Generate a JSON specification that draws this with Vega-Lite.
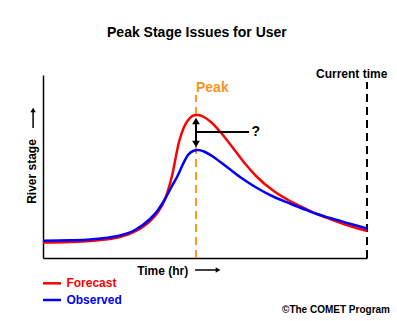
{
  "$schema": "https://vega.github.io/schema/vega-lite/v6.json",
  "width": 324,
  "height": 183,
  "autosize": {"type": "none"},
  "padding": {"left": 43, "top": 75, "right": 30, "bottom": 63},
  "background": "white",
  "config": {"view": {"stroke": null}, "font": "Liberation Sans"},
  "datasets": {
    "curves": [
      {"t": 0, "s": 1.55, "series": "Forecast"},
      {"t": 3.0, "s": 1.6, "series": "Forecast"},
      {"t": 5.22, "s": 1.7, "series": "Forecast"},
      {"t": 6.89, "s": 1.85, "series": "Forecast"},
      {"t": 8.56, "s": 2.1, "series": "Forecast"},
      {"t": 10.22, "s": 2.65, "series": "Forecast"},
      {"t": 11.89, "s": 3.7, "series": "Forecast"},
      {"t": 12.78, "s": 4.6, "series": "Forecast"},
      {"t": 13.56, "s": 5.9, "series": "Forecast"},
      {"t": 14.33, "s": 8.2, "series": "Forecast"},
      {"t": 15.11, "s": 11.6, "series": "Forecast"},
      {"t": 15.67, "s": 13.1, "series": "Forecast"},
      {"t": 16.22, "s": 13.9, "series": "Forecast"},
      {"t": 16.78, "s": 14.27, "series": "Forecast"},
      {"t": 17.22, "s": 14.3, "series": "Forecast"},
      {"t": 17.89, "s": 14.1, "series": "Forecast"},
      {"t": 18.78, "s": 13.5, "series": "Forecast"},
      {"t": 19.89, "s": 12.4, "series": "Forecast"},
      {"t": 21.33, "s": 10.75, "series": "Forecast"},
      {"t": 22.44, "s": 9.45, "series": "Forecast"},
      {"t": 23.78, "s": 8.1, "series": "Forecast"},
      {"t": 25.56, "s": 6.75, "series": "Forecast"},
      {"t": 27.44, "s": 5.7, "series": "Forecast"},
      {"t": 29.11, "s": 4.95, "series": "Forecast"},
      {"t": 30.44, "s": 4.4, "series": "Forecast"},
      {"t": 31.89, "s": 3.9, "series": "Forecast"},
      {"t": 34.11, "s": 3.2, "series": "Forecast"},
      {"t": 36.0, "s": 2.7, "series": "Forecast"},
      {"t": 0, "s": 1.73, "series": "Observed"},
      {"t": 3.0, "s": 1.77, "series": "Observed"},
      {"t": 5.22, "s": 1.85, "series": "Observed"},
      {"t": 6.89, "s": 2.0, "series": "Observed"},
      {"t": 8.56, "s": 2.25, "series": "Observed"},
      {"t": 10.22, "s": 2.8, "series": "Observed"},
      {"t": 11.89, "s": 3.9, "series": "Observed"},
      {"t": 12.78, "s": 4.8, "series": "Observed"},
      {"t": 13.56, "s": 5.9, "series": "Observed"},
      {"t": 14.33, "s": 7.2, "series": "Observed"},
      {"t": 14.89, "s": 8.1, "series": "Observed"},
      {"t": 15.56, "s": 9.4, "series": "Observed"},
      {"t": 16.11, "s": 10.3, "series": "Observed"},
      {"t": 16.67, "s": 10.7, "series": "Observed"},
      {"t": 17.22, "s": 10.8, "series": "Observed"},
      {"t": 17.89, "s": 10.65, "series": "Observed"},
      {"t": 18.78, "s": 10.2, "series": "Observed"},
      {"t": 20.0, "s": 9.4, "series": "Observed"},
      {"t": 21.89, "s": 8.1, "series": "Observed"},
      {"t": 23.78, "s": 7.0, "series": "Observed"},
      {"t": 25.56, "s": 6.15, "series": "Observed"},
      {"t": 27.44, "s": 5.45, "series": "Observed"},
      {"t": 29.11, "s": 4.85, "series": "Observed"},
      {"t": 30.44, "s": 4.4, "series": "Observed"},
      {"t": 31.89, "s": 4.0, "series": "Observed"},
      {"t": 34.11, "s": 3.43, "series": "Observed"},
      {"t": 36.0, "s": 2.95, "series": "Observed"}
    ]
  },
  "encoding": {
    "x": {"field": "t", "type": "quantitative", "scale": {"domain": [0, 36], "nice": false, "zero": false},
      "axis": {"domain": true, "domainColor": "black", "domainWidth": 1.5, "ticks": false, "labels": false, "grid": false, "title": null}},
    "y": {"field": "s", "type": "quantitative", "scale": {"domain": [0, 18.3], "nice": false, "zero": false},
      "axis": {"domain": true, "domainColor": "black", "domainWidth": 1.5, "ticks": false, "labels": false, "grid": false, "title": null}}
  },
  "layer": [
    {
      "data": {"values": [{"t": 17.0, "s": 0, "s2": 16.3}]},
      "mark": {"type": "rule", "color": "#FF9A1F", "strokeWidth": 2, "strokeDash": [8, 5]},
      "encoding": {"y2": {"field": "s2"}}
    },
    {
      "data": {"values": [{"t": 36.0, "s": 0, "s2": 17.6}]},
      "mark": {"type": "rule", "color": "black", "strokeWidth": 2, "strokeDash": [8, 5]},
      "encoding": {"y2": {"field": "s2"}}
    },
    {
      "data": {"name": "curves"},
      "mark": {"type": "line", "interpolate": "monotone", "strokeWidth": 2.5},
      "encoding": {
        "color": {"field": "series", "type": "nominal", "scale": {"domain": ["Forecast", "Observed"], "range": ["#FF0000", "#0000FF"]}, "legend": null}
      }
    },
    {
      "data": {"values": [
        {"t": 17.0, "s": 11.4, "s2": 13.7},
        {"t": 17.1, "t2": 22.9, "s": 12.6}
      ]},
      "mark": {"type": "rule", "color": "black", "strokeWidth": 2},
      "encoding": {"x2": {"field": "t2"}, "y2": {"field": "s2"}}
    },
    {
      "data": {"values": [
        {"t": -1.1, "s": 13.0, "s2": 14.8},
        {"t": 16.9, "t2": 19.4, "s": -1.2}
      ]},
      "mark": {"type": "rule", "color": "black", "strokeWidth": 1.5},
      "encoding": {"x2": {"field": "t2"}, "y2": {"field": "s2"}}
    },
    {
      "data": {"values": [{"t": 17.0, "s": 13.7}]},
      "mark": {"type": "point", "shape": "triangle-up", "filled": true, "color": "black", "opacity": 1, "size": 60}
    },
    {
      "data": {"values": [{"t": 17.0, "s": 11.4}]},
      "mark": {"type": "point", "shape": "triangle-down", "filled": true, "color": "black", "opacity": 1, "size": 60}
    },
    {
      "data": {"values": [{"t": -1.1, "s": 14.8}]},
      "mark": {"type": "point", "shape": "triangle-up", "filled": true, "color": "black", "opacity": 1, "size": 30}
    },
    {
      "data": {"values": [{"t": 19.45, "s": -1.2}]},
      "mark": {"type": "point", "shape": "triangle-right", "filled": true, "color": "black", "opacity": 1, "size": 30}
    },
    {
      "data": {"values": [
        {"t": 0, "t2": 2.0, "s": -2.53, "series": "Forecast"},
        {"t": 0, "t2": 2.0, "s": -4.2, "series": "Observed"}
      ]},
      "mark": {"type": "rule", "strokeWidth": 2.5},
      "encoding": {"x2": {"field": "t2"}, "color": {"field": "series", "type": "nominal", "legend": null}}
    },
    {
      "data": {"values": [
        {"t": 2.6, "s": -2.53, "series": "Forecast"},
        {"t": 2.6, "s": -4.2, "series": "Observed"}
      ]},
      "mark": {"type": "text", "align": "left", "baseline": "middle", "fontSize": 12, "fontWeight": "bold"},
      "encoding": {"text": {"field": "series"}, "color": {"field": "series", "type": "nominal", "legend": null}}
    },
    {
      "data": {"values": [{"t": 17.1, "s": 22.5, "label": "Peak Stage Issues for User"}]},
      "mark": {"type": "text", "align": "center", "baseline": "middle", "fontSize": 14, "fontWeight": "bold", "color": "black"},
      "encoding": {"text": {"field": "label"}}
    },
    {
      "data": {"values": [
        {"t": 34.3, "s": 18.4, "label": "Current time"},
        {"t": 13.3, "s": -1.25, "label": "Time (hr)"}
      ]},
      "mark": {"type": "text", "align": "center", "baseline": "middle", "fontSize": 12, "fontWeight": "bold", "color": "black"},
      "encoding": {"text": {"field": "label"}}
    },
    {
      "data": {"values": [{"t": -1.2, "s": 8.65, "label": "River stage"}]},
      "mark": {"type": "text", "align": "center", "baseline": "middle", "angle": 270, "fontSize": 12, "fontWeight": "bold", "color": "black"},
      "encoding": {"text": {"field": "label"}}
    },
    {
      "data": {"values": [{"t": 17.0, "s": 16.97, "label": "Peak"}]},
      "mark": {"type": "text", "align": "left", "baseline": "middle", "fontSize": 14, "fontWeight": "bold", "color": "#F7941D"},
      "encoding": {"text": {"field": "label"}}
    },
    {
      "data": {"values": [{"t": 23.65, "s": 12.6, "label": "?"}]},
      "mark": {"type": "text", "align": "center", "baseline": "middle", "fontSize": 14, "fontWeight": "bold", "color": "black"},
      "encoding": {"text": {"field": "label"}}
    },
    {
      "data": {"values": [{"t": 26.56, "s": -5.2, "label": "©The COMET Program"}]},
      "mark": {"type": "text", "align": "left", "baseline": "middle", "fontSize": 10, "fontWeight": "bold", "color": "black"},
      "encoding": {"text": {"field": "label"}}
    }
  ]
}
